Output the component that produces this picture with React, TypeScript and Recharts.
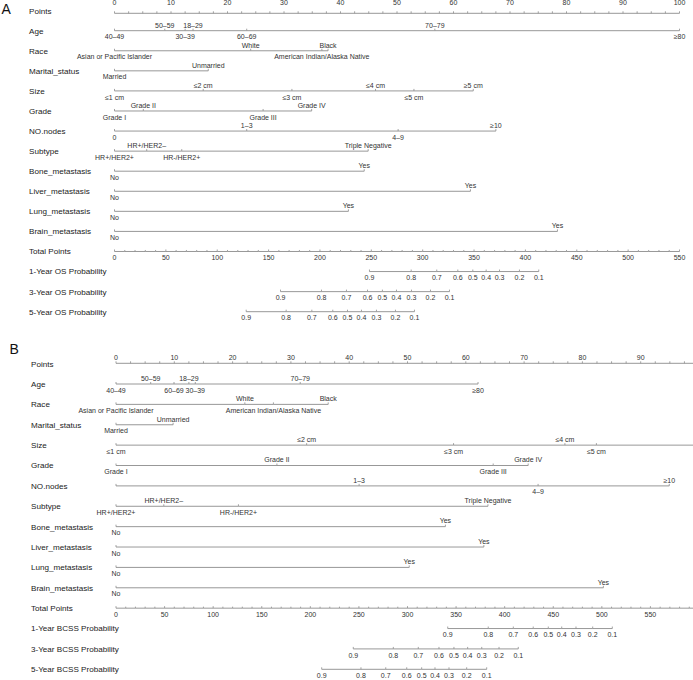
import React from 'react';
import { ScatterChart, Scatter, XAxis, YAxis } from 'recharts';

const FONT = '"Liberation Sans", Arial, Helvetica, sans-serif';
const LINE = '#8c8c8c';
const TXT = '#333333';

// ---------- row names ----------
const rowNamesA = ['Points', 'Age', 'Race', 'Marital_status', 'Size', 'Grade', 'NO.nodes', 'Subtype',
  'Bone_metastasis', 'Liver_metastasis', 'Lung_metastasis', 'Brain_metastasis', 'Total Points',
  '1-Year OS Probability', '3-Year OS Probability', '5-Year OS Probability'];
const rowNamesB = ['Points', 'Age', 'Race', 'Marital_status', 'Size', 'Grade', 'NO.nodes', 'Subtype',
  'Bone_metastasis', 'Liver_metastasis', 'Lung_metastasis', 'Brain_metastasis', 'Total Points',
  '1-Year BCSS Probability', '3-Year BCSS Probability', '5-Year BCSS Probability'];

// ---------- levels ----------
const ageLevels = ['18–29', '30–39', '40–49', '50–59', '60–69', '70–79', '≥80'];
const raceLevels = ['Asian or Pacific Islander', 'White', 'American Indian/Alaska Native', 'Black'];
const maritalLevels = ['Married', 'Unmarried'];
const sizeLevelsA = ['≤1 cm', '≤2 cm', '≤3 cm', '≤4 cm', '≤5 cm', '≥5 cm'];
const sizeLevelsB = ['≤1 cm', '≤2 cm', '≤3 cm', '≤4 cm', '≤5 cm', ''];
const gradeLevels = ['Grade I', 'Grade II', 'Grade III', 'Grade IV'];
const nodesLevelsA = ['0', '1–3', '4–9', '≥10'];
const nodesLevelsB = ['', '1–3', '4–9', '≥10'];
const subtypeLevels = ['HR+/HER2+', 'HR+/HER2–', 'HR-/HER2+', 'Triple Negative'];
const yesNoLevels = ['No', 'Yes'];
const probLevels = ['0.9', '0.8', '0.7', '0.6', '0.5', '0.4', '0.3', '0.2', '0.1'];

// ---------- panel A points (OS) ----------
const ageA = [13.9, 12.5, 0, 8.9, 23.4, 56.7, 100];
const raceA = [0, 24.1, 36.7, 37.8];
const maritalA = [0, 16.6];
const sizeA = [0, 15.7, 31.4, 46.2, 53.0, 63.5];
const gradeA = [0, 5.1, 26.3, 34.9];
const nodesA = [0, 23.4, 50.2, 67.5];
const subtypeA = [0, 5.7, 11.9, 44.9];
const boneA = [0, 44.2];
const liverA = [0, 63.0];
const lungA = [0, 41.4];
const brainA = [0, 78.4];
const os1A = [248.2, 288.8, 313.7, 334.2, 348.8, 361.8, 374.8, 394.2, 413.0];
const os3A = [161.6, 201.5, 225.8, 246.3, 260.8, 274.5, 289.1, 307.6, 326.1];
const os5A = [128.2, 167.1, 192.1, 212.5, 226.8, 240.4, 255.0, 273.5, 292.0];
const totalLabelsA = [0, 50, 100, 150, 200, 250, 300, 350, 400, 450, 500, 550];
const pointLabelsA = [0, 10, 20, 30, 40, 50, 60, 70, 80, 90, 100];

// ---------- panel B points (BCSS) ----------
const ageB = [12.5, 13.6, 0, 5.95, 9.95, 31.6, 62.1];
const raceB = [0, 22.1, 27.0, 36.4];
const maritalB = [0, 9.8];
const sizeB = [0, 32.7, 57.9, 77.0, 82.4, 100];
const gradeB = [0, 27.6, 64.7, 70.7];
const nodesB = [0, 41.7, 72.4, 94.9];
const subtypeB = [0, 8.2, 21.0, 63.8];
const boneB = [0, 56.5];
const liverB = [0, 63.1];
const lungB = [0, 50.3];
const brainB = [0, 83.6];
const bcss1B = [341.4, 383.1, 408.9, 429.4, 444.9, 458.7, 473.4, 490.6, 510.8];
const bcss3B = [244.2, 285.4, 311.1, 332.4, 347.8, 361.9, 376.4, 394.2, 414.0];
const bcss5B = [211.7, 252.1, 277.6, 299.2, 314.6, 328.3, 342.7, 360.9, 381.5];
const totalLabelsB = [0, 50, 100, 150, 200, 250, 300, 350, 400, 450, 500, 550];
const pointLabelsB = [0, 10, 20, 30, 40, 50, 60, 70, 80, 90];

type Pt = { x: number; y: number; label: string; above: boolean; tick: number };

function levelRow(levels: string[], values: number[], row: number): Pt[] {
  const pts = levels.map((l, i) => ({ x: values[i], y: row, label: l, above: false, tick: 2 }));
  pts.sort((a, b) => a.x - b.x);
  return pts.map((p, i) => ({ ...p, above: i % 2 === 1 }));
}

function probRow(values: number[], row: number): Pt[] {
  return probLevels
    .map((l, i) => ({ x: values[i], y: row, label: l, above: false, tick: 2 }))
    .sort((a, b) => a.x - b.x);
}

function totalRow(labels: number[], max: number, row: number): Pt[] {
  const out: Pt[] = [];
  for (let v = 0; v <= max; v += 10) {
    const lab = labels.indexOf(v) >= 0;
    out.push({ x: v, y: row, label: lab ? String(v) : '', above: false, tick: lab ? 2 : 1.5 });
  }
  return out;
}

function pointTicks(): number[] {
  const t: number[] = [];
  for (let v = 0; v <= 100; v += 2.5) t.push(v);
  return t;
}

const LevelShape = (props: any) => {
  const { cx, cy, payload } = props;
  if (cx == null || cy == null || !payload) return <g />;
  return (
    <g>
      <line x1={cx} x2={cx} y1={cy} y2={cy - payload.tick} stroke={LINE} strokeWidth={0.8} />
      {payload.label ? (
        <text
          x={cx}
          y={payload.above ? cy - 3.2 : cy + 8.6}
          textAnchor="middle"
          fontSize={7}
          fill={TXT}
          fontFamily={FONT}
        >
          {payload.label}
        </text>
      ) : null}
    </g>
  );
};

const RowTick = (props: any) => {
  const { y, payload, names, x0 } = props;
  const name = names[payload.value];
  if (!name) return <g />;
  return (
    <text x={x0} y={y} dy={2.9} fontSize={8.1} fill="#222" fontFamily={FONT} textAnchor="start">
      {name}
    </text>
  );
};

type PanelCfg = {
  names: string[];
  vars: [string[], number[]][];
  probs: number[][];
  totalLabels: number[];
  pointLabels: number[];
  totalMax: number;
  width: number;
  yW: number;
  right: number;
  bottom: number;
  axisH: number;
  tickMargin: number;
  padTop: number;
  labelX: number;
};

function Panel({ cfg }: { cfg: PanelCfg }) {
  const rowTicks = cfg.names.map((_, i) => i);
  const varRows = cfg.vars.map(([lv, vals], i) => levelRow(lv, vals, i + 1));
  const totRow = totalRow(cfg.totalLabels, cfg.totalMax, 12);
  const pRows = cfg.probs.map((p, i) => probRow(p, 13 + i));
  return (
    <ScatterChart
      width={cfg.width}
      height={340}
      margin={{ top: 0, left: 0, right: cfg.right, bottom: cfg.bottom }}
      style={{ fontFamily: FONT }}
    >
      <XAxis
        xAxisId="pts"
        type="number"
        dataKey="x"
        orientation="top"
        domain={[0, 100]}
        ticks={pointTicks()}
        interval={0}
        height={cfg.axisH}
        tickSize={2}
        tickMargin={cfg.tickMargin}
        tickFormatter={(v: number) => (cfg.pointLabels.indexOf(v) >= 0 ? String(v) : '')}
        tick={{ fontSize: 7, fill: TXT, fontFamily: FONT }}
        axisLine={{ stroke: LINE, strokeWidth: 0.9 }}
        tickLine={{ stroke: LINE, strokeWidth: 0.8 }}
      />
      <XAxis xAxisId="tot" type="number" dataKey="x" domain={[0, cfg.totalMax]} hide />
      <YAxis
        type="number"
        dataKey="y"
        domain={[1, 15]}
        reversed
        ticks={rowTicks}
        interval={0}
        width={cfg.yW}
        padding={{ top: cfg.padTop, bottom: 0 }}
        axisLine={false}
        tickLine={false}
        tick={<RowTick names={cfg.names} x0={cfg.labelX} />}
      />
      {varRows.map((d, i) => (
        <Scatter
          key={'v' + i}
          xAxisId="pts"
          data={d}
          line={{ stroke: LINE, strokeWidth: 0.9 }}
          shape={LevelShape}
          isAnimationActive={false}
        />
      ))}
      <Scatter
        xAxisId="tot"
        data={totRow}
        line={{ stroke: LINE, strokeWidth: 0.9 }}
        shape={LevelShape}
        isAnimationActive={false}
      />
      {pRows.map((d, i) => (
        <Scatter
          key={'p' + i}
          xAxisId="tot"
          data={d}
          line={{ stroke: LINE, strokeWidth: 0.9 }}
          shape={LevelShape}
          isAnimationActive={false}
        />
      ))}
    </ScatterChart>
  );
}

const cfgA: PanelCfg = {
  names: rowNamesA,
  vars: [
    [ageLevels, ageA], [raceLevels, raceA], [maritalLevels, maritalA], [sizeLevelsA, sizeA],
    [gradeLevels, gradeA], [nodesLevelsA, nodesA], [subtypeLevels, subtypeA],
    [yesNoLevels, boneA], [yesNoLevels, liverA], [yesNoLevels, lungA], [yesNoLevels, brainA],
  ],
  probs: [os1A, os3A, os5A],
  totalLabels: totalLabelsA,
  pointLabels: pointLabelsA,
  totalMax: 550,
  width: 693,
  yW: 114.5,
  right: 13.5,
  bottom: 28.3,
  axisH: 13.3,
  tickMargin: 6,
  padTop: 17.4,
  labelX: 29,
};

const cfgB: PanelCfg = {
  names: rowNamesB,
  vars: [
    [ageLevels, ageB], [raceLevels, raceB], [maritalLevels, maritalB], [sizeLevelsB, sizeB],
    [gradeLevels, gradeB], [nodesLevelsB, nodesB], [subtypeLevels, subtypeB],
    [yesNoLevels, boneB], [yesNoLevels, liverB], [yesNoLevels, lungB], [yesNoLevels, brainB],
  ],
  probs: [bcss1B, bcss3B, bcss5B],
  totalLabels: totalLabelsB,
  pointLabels: pointLabelsB,
  totalMax: 600,
  width: 710,
  yW: 116,
  right: 11,
  bottom: 10.7,
  axisH: 23.3,
  tickMargin: 1,
  padTop: 20.7,
  labelX: 31,
};

export default function App() {
  return (
    <div
      style={{
        position: 'absolute',
        left: 0,
        top: 0,
        width: 693,
        height: 680,
        overflow: 'hidden',
        background: '#ffffff',
        fontFamily: FONT,
      }}
    >
      <div style={{ position: 'absolute', left: 0, top: 0 }}>
        <Panel cfg={cfgA} />
      </div>
      <div style={{ position: 'absolute', left: 0, top: 340 }}>
        <Panel cfg={cfgB} />
      </div>
      <div style={{ position: 'absolute', left: 1.5, top: 1.5, fontSize: 14, lineHeight: '14px', color: '#111' }}>A</div>
      <div style={{ position: 'absolute', left: 9.5, top: 341.5, fontSize: 14, lineHeight: '14px', color: '#111' }}>B</div>
    </div>
  );
}
